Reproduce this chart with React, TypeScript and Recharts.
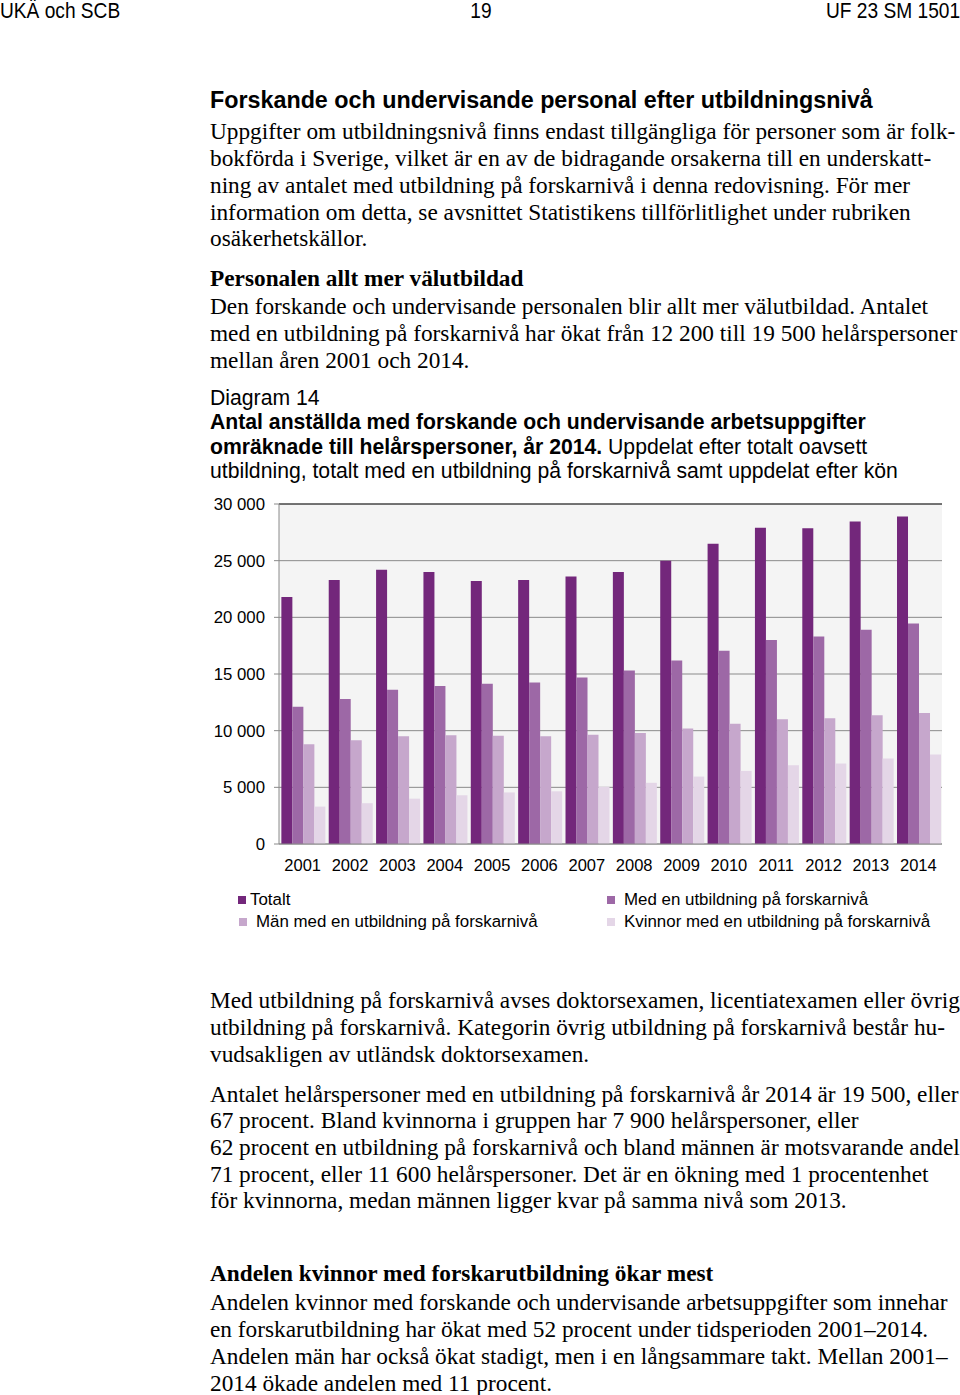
import React from 'react';
import { BarChart, Bar, XAxis, YAxis, CartesianGrid, ReferenceLine } from 'recharts';

const years = ['2001', '2002', '2003', '2004', '2005', '2006', '2007', '2008', '2009', '2010', '2011', '2012', '2013', '2014'];
const totalt = [21800, 23300, 24200, 24000, 23200, 23300, 23600, 24000, 25000, 26500, 27900, 27850, 28450, 28900];
const medForskarniva = [12100, 12800, 13600, 13950, 14150, 14250, 14700, 15300, 16200, 17050, 18000, 18300, 18900, 19450];
const man = [8800, 9150, 9500, 9600, 9550, 9500, 9650, 9800, 10200, 10600, 11000, 11100, 11350, 11550];
const kvinnor = [3300, 3600, 4000, 4300, 4550, 4650, 5050, 5400, 5950, 6450, 6950, 7100, 7550, 7900];
const yTicks = [0, 5000, 10000, 15000, 20000, 25000, 30000];

const series = [
  { key: 'totalt', name: 'Totalt', color: '#73277b' },
  { key: 'med', name: 'Med en utbildning på forskarnivå', color: '#9d68a6' },
  { key: 'man', name: 'Män med en utbildning på forskarnivå', color: '#c6a7cc' },
  { key: 'kvinnor', name: 'Kvinnor med en utbildning på forskarnivå', color: '#e4d6e7' },
];

const data = years.map((year, i) => ({
  year,
  totalt: totalt[i],
  med: medForskarniva[i],
  man: man[i],
  kvinnor: kvinnor[i],
}));

const SANS = '"Liberation Sans", Arial, sans-serif';
const SERIF = '"Liberation Serif", "Times New Roman", serif';

const fmt = (v: number) => (v >= 1000 ? `${Math.floor(v / 1000)} ${String(v % 1000).padStart(3, '0')}` : String(v));

// one text line, placed by its vertical centre
const Line: React.FC<{ y: number; x?: number; size?: number; font?: string; bold?: boolean; children: React.ReactNode }> = ({
  y, x = 210, size = 23.3, font = SERIF, bold = false, children,
}) => (
  <div
    style={{
      position: 'absolute', left: x, top: y - 15, height: 30, lineHeight: '30px',
      fontFamily: font, fontSize: size, fontWeight: bold ? 'bold' : 'normal',
      whiteSpace: 'nowrap', color: '#000',
    }}
  >
    {children}
  </div>
);

const legendPos = [
  { x: 238, y: 900, gap: 4 },
  { x: 607, y: 900, gap: 9 },
  { x: 239, y: 922, gap: 9 },
  { x: 607, y: 922, gap: 9 },
];

const headStyle: React.CSSProperties = {
  position: 'absolute', top: -4, fontFamily: SANS, fontSize: 22, lineHeight: '30px', whiteSpace: 'nowrap',
};

export default function App() {
  return (
    <div style={{ position: 'relative', width: 960, height: 1395, background: '#fff' }}>
      <style>{'body{margin:0}'}</style>
      <div style={{ ...headStyle, left: 0, transform: 'scaleX(0.87)', transformOrigin: 'left' }}>UKÄ och SCB</div>
      <div style={{ ...headStyle, left: 0, width: 962, textAlign: 'center', transform: 'scaleX(0.87)' }}>19</div>
      <div style={{ ...headStyle, right: 0, transform: 'scaleX(0.87)', transformOrigin: 'right' }}>UF 23 SM 1501</div>

      <Line y={100} font={SANS} bold>Forskande och undervisande personal efter utbildningsnivå</Line>
      <Line y={131}>Uppgifter om utbildningsnivå finns endast tillgängliga för personer som är folk-</Line>
      <Line y={158}>bokförda i Sverige, vilket är en av de bidragande orsakerna till en underskatt-</Line>
      <Line y={185}>ning av antalet med utbildning på forskarnivå i denna redovisning. För mer</Line>
      <Line y={212}>information om detta, se avsnittet Statistikens tillförlitlighet under rubriken</Line>
      <Line y={238}>osäkerhetskällor.</Line>

      <Line y={278} bold>Personalen allt mer välutbildad</Line>
      <Line y={306}>Den forskande och undervisande personalen blir allt mer välutbildad. Antalet</Line>
      <Line y={333}>med en utbildning på forskarnivå har ökat från 12 200 till 19 500 helårspersoner</Line>
      <Line y={360}>mellan åren 2001 och 2014.</Line>

      <Line y={398} font={SANS} size={21.2}>Diagram 14</Line>
      <Line y={422} font={SANS} size={21.2} bold>Antal anställda med forskande och undervisande arbetsuppgifter</Line>
      <Line y={447} font={SANS} size={21.2}>
        <b>omräknade till helårspersoner, år 2014.</b> Uppdelat efter totalt oavsett
      </Line>
      <Line y={471} font={SANS} size={21.2}>utbildning, totalt med en utbildning på forskarnivå samt uppdelat efter kön</Line>

      <div style={{ position: 'absolute', left: 200, top: 490 }}>
        <BarChart width={760} height={389} data={data} margin={{ top: 14, right: 18, bottom: 5, left: 0 }} barCategoryGap="5%" barGap={0}>
          <CartesianGrid vertical={false} stroke="#8a8a8a" fill="#f4f4f4" />
          <XAxis
            dataKey="year"
            height={30}
            tickSize={0}
            tickMargin={15}
            axisLine={{ stroke: '#8a8a8a' }}
            tick={{ fill: '#000', fontSize: 16.5, fontFamily: SANS }}
          />
          <YAxis
            width={79}
            domain={[0, 30000]}
            ticks={yTicks}
            tickFormatter={fmt}
            tickSize={5}
            tickMargin={9}
            axisLine={{ stroke: '#8a8a8a' }}
            tickLine={{ stroke: '#8a8a8a' }}
            tick={{ fill: '#000', fontSize: 16.8, fontFamily: SANS }}
          />
          <YAxis yAxisId="right" orientation="right" width={0} tick={false} tickLine={false} axisLine={{ stroke: '#444' }} />
          <ReferenceLine y={30000} stroke="#222" />
          {series.map((s) => (
            <Bar key={s.key} dataKey={s.key} name={s.name} fill={s.color} isAnimationActive={false} />
          ))}
        </BarChart>
      </div>

      {series.map((s, i) => (
        <div
          key={s.key}
          style={{
            position: 'absolute', left: legendPos[i].x, top: legendPos[i].y - 11, height: 22,
            display: 'flex', alignItems: 'center', fontFamily: SANS, fontSize: 16.9, whiteSpace: 'nowrap',
          }}
        >
          <span style={{ display: 'inline-block', width: 8, height: 8, background: s.color, marginRight: legendPos[i].gap }} />
          {s.name}
        </div>
      ))}

      <Line y={1000}>Med utbildning på forskarnivå avses doktorsexamen, licentiatexamen eller övrig</Line>
      <Line y={1027}>utbildning på forskarnivå. Kategorin övrig utbildning på forskarnivå består hu-</Line>
      <Line y={1054}>vudsakligen av utländsk doktorsexamen.</Line>

      <Line y={1094}>Antalet helårspersoner med en utbildning på forskarnivå år 2014 är 19 500, eller</Line>
      <Line y={1120}>67 procent. Bland kvinnorna i gruppen har 7 900 helårspersoner, eller</Line>
      <Line y={1147}>62 procent en utbildning på forskarnivå och bland männen är motsvarande andel</Line>
      <Line y={1174}>71 procent, eller 11 600 helårspersoner. Det är en ökning med 1 procentenhet</Line>
      <Line y={1200}>för kvinnorna, medan männen ligger kvar på samma nivå som 2013.</Line>

      <Line y={1273} bold>Andelen kvinnor med forskarutbildning ökar mest</Line>
      <Line y={1302}>Andelen kvinnor med forskande och undervisande arbetsuppgifter som innehar</Line>
      <Line y={1329}>en forskarutbildning har ökat med 52 procent under tidsperioden 2001–2014.</Line>
      <Line y={1356}>Andelen män har också ökat stadigt, men i en långsammare takt. Mellan 2001–</Line>
      <Line y={1383}>2014 ökade andelen med 11 procent.</Line>
    </div>
  );
}
